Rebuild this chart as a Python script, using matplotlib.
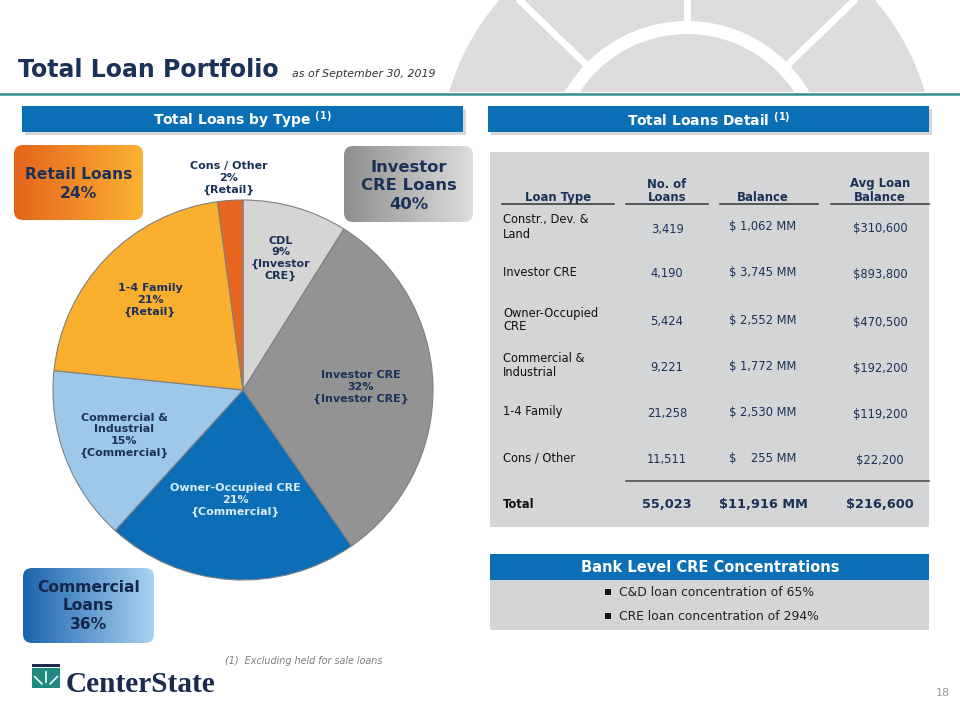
import numpy as np
import matplotlib
matplotlib.use("Agg")
import matplotlib.pyplot as plt
from matplotlib.patches import Rectangle, FancyBboxPatch, Circle, Wedge
from matplotlib.colors import LinearSegmentedColormap

plt.rcParams["font.family"] = ["DejaVu Sans"]

# ---------------- data ----------------
pie_labels = ["CDL", "Investor CRE", "Owner-Occupied CRE", "Commercial &\nIndustrial", "1-4 Family", "Cons / Other"]
pie_pcts = [9, 32, 21, 15, 21, 2]
pie_groups = ["{Investor\nCRE}", "{Investor CRE}", "{Commercial}", "{Commercial}", "{Retail}", "{Retail}"]

loan_types = ["Constr., Dev. &\nLand", "Investor CRE", "Owner-Occupied\nCRE", "Commercial &\nIndustrial", "1-4 Family", "Cons / Other"]
num_loans = [3419, 4190, 5424, 9221, 21258, 11511]
balance_mm = [1062, 3745, 2552, 1772, 2530, 255]
avg_balance = [310600, 893800, 470500, 192200, 119200, 22200]
total_loans = 55023
total_balance_mm = 11916
total_avg = 216600

group_names = ["Retail Loans\n24%", "Investor\nCRE Loans\n40%", "Commercial\nLoans\n36%"]
concentrations = ["C&D loan concentration of 65%", "CRE loan concentration of 294%"]

# ---------------- styles ----------------
NAVY = "#1B3157"
BLUE = "#0B6FB5"
TABLE_BG = "#D4D5D7"
pie_colors = ["#D5D5D5", "#939393", "#0C6EB6", "#9DC8EA", "#FBAF2F", "#E8661F"]
label_colors = [NAVY, NAVY, "#D8ECFA", NAVY, NAVY, NAVY]
label_dist = [0.72, 0.62, 0.58, 0.67, 0.68, 1.12]

W, H = 960, 720
fig = plt.figure(figsize=(9.6, 7.2), dpi=100)
fig.patch.set_facecolor("white")
ax = fig.add_axes([0, 0, 1, 1])
ax.set_autoscale_on(False)
ax.set_xlim(0, W)
ax.set_ylim(H, 0)
ax.axis("off")

# ---------------- watermark ----------------
clip = Rectangle((0, 0), W, 92, transform=ax.transData)
wm_center = (687, 162)
wm = [Circle(wm_center, 248, color="#DCDCDD", lw=0, zorder=0),
      Wedge(wm_center, 141, 0, 360, width=13, color="white", lw=0, zorder=0.1)]
for a in (44, 90, 136):
    r0, r1 = 135, 270
    xs = [wm_center[0] + r0 * np.cos(np.radians(a)), wm_center[0] + r1 * np.cos(np.radians(a))]
    ys = [wm_center[1] - r0 * np.sin(np.radians(a)), wm_center[1] - r1 * np.sin(np.radians(a))]
    ln, = ax.plot(xs, ys, color="white", lw=5, zorder=0.1, solid_capstyle="butt")
    ln.set_clip_path(clip)
for p in wm:
    ax.add_patch(p)
    p.set_clip_path(clip)

# ---------------- title ----------------
ax.text(18, 77, "Total Loan Portfolio", fontsize=17, fontweight="bold", color=NAVY, va="baseline", ha="left")
ax.text(292, 77, "as of September 30, 2019", fontsize=7.9, style="italic", color="#333333", va="baseline", ha="left")
ax.plot([0, W], [93.5, 93.5], color="#3A8C8C", lw=1.8, zorder=2)


def banner(x0, y0, x1, y1, text, fontsize=10, shadow=True):
    if shadow:
        ax.add_patch(Rectangle((x0 + 3, y0 + 3), x1 - x0, y1 - y0, color="#A8A8A8", alpha=0.45, lw=0, zorder=1))
    ax.add_patch(Rectangle((x0, y0), x1 - x0, y1 - y0, color=BLUE, lw=0, zorder=2))
    ax.text((x0 + x1) / 2, (y0 + y1) / 2 + 1, text, fontsize=fontsize, fontweight="bold", color="white",
            ha="center", va="center", zorder=3)


banner(22, 106, 463, 132, r"Total Loans by Type $^{\mathbf{(1)}}$")
banner(488, 106, 929, 132, r"Total Loans Detail $^{\mathbf{(1)}}$")


def grad_box(x0, y0, x1, y1, c0, c1, text, fontsize, ty=None, ls=1.3, color=NAVY):
    patch = FancyBboxPatch((x0, y0), x1 - x0, y1 - y0, boxstyle="round,pad=0,rounding_size=9",
                           lw=0, facecolor="none", zorder=2)
    ax.add_patch(patch)
    cmap = LinearSegmentedColormap.from_list("g", [c0, c1])
    grad = np.linspace(0, 1, 256).reshape(1, -1)
    im = ax.imshow(grad, cmap=cmap, extent=(x0, x1, y1, y0), aspect="auto", zorder=2, interpolation="bilinear")
    im.set_clip_path(patch)
    ax.text((x0 + x1) / 2, ty if ty else (y0 + y1) / 2, text, fontsize=fontsize, fontweight="bold",
            color=color, ha="center", va="center", zorder=3, linespacing=ls)


grad_box(14, 145, 143, 220, "#E5641C", "#FBB233", group_names[0], 11.2, ty=184)
grad_box(344, 146, 473, 222, "#8E8E8E", "#DEDEDE", group_names[1], 11.8, ty=186)
grad_box(23, 568, 154, 643, "#1A64AC", "#A9D2F2", group_names[2], 11.2, ty=606, ls=1.3, color="#13254A")

# ---------------- pie ----------------
cx, cy, r = 243, 390, 190
pax = fig.add_axes([(cx - r) / W, (H - cy - r) / H, 2 * r / W, 2 * r / H])
wedges, _ = pax.pie(balance_mm, colors=pie_colors, startangle=90, counterclock=False,
                    wedgeprops=dict(edgecolor="#808080", linewidth=0.8))
pax.set_xlim(-1, 1)
pax.set_ylim(-1, 1)
pax.set_aspect("equal")
pax.axis("off")
for w, lab, pct, grp, d, col in zip(wedges, pie_labels, pie_pcts, pie_groups, label_dist, label_colors):
    ang = np.radians((w.theta1 + w.theta2) / 2)
    pax.text(d * np.cos(ang), d * np.sin(ang), f"{lab}\n{pct}%\n{grp}", ha="center", va="center",
             fontsize=8, fontweight="bold", color=col, linespacing=1.22, clip_on=False)

# ---------------- table ----------------
ax.add_patch(Rectangle((490, 152), 439, 375, color=TABLE_BG, lw=0, zorder=1))
cols_x = [558, 667, 763, 880]
underlines = [(502, 614), (626, 708), (720, 818), (831, 929)]
headers = ["Loan Type", "No. of\nLoans", "Balance", "Avg Loan\nBalance"]
for x, (u0, u1), h in zip(cols_x, underlines, headers):
    ax.text(x, 201, h, ha="center", va="baseline", fontsize=8.4, fontweight="bold", color=NAVY,
            linespacing=1.05, zorder=3)
    ax.plot([u0, u1], [204, 204], color="#333333", lw=1.1, zorder=3)

row_y = [227, 272, 320, 366, 412, 458]
for y, lt, n, b, a in zip(row_y, loan_types, num_loans, balance_mm, avg_balance):
    ax.text(503, y, lt, ha="left", va="center", fontsize=8.3, color="#111111", linespacing=1.1, zorder=3)
    ax.text(cols_x[1], y + 2, f"{n:,}", ha="center", va="center", fontsize=8.3, color=NAVY, zorder=3)
    bal = f"$ {b:,}" if b >= 1000 else f"$    {b:,}"
    ax.text(cols_x[2], y, f"{bal} MM", ha="center", va="center", fontsize=8.3, color=NAVY, zorder=3)
    ax.text(cols_x[3], y + 2, f"${a:,}", ha="center", va="center", fontsize=8.3, color=NAVY, zorder=3)

ax.plot([626, 929], [481, 481], color="#444444", lw=1.1, zorder=3)
ty = 504
ax.text(503, ty, "Total", ha="left", va="center", fontsize=8.3, fontweight="bold", color="#111111", zorder=3)
ax.text(cols_x[1], ty + 1, f"{total_loans:,}", ha="center", va="center", fontsize=9.3, fontweight="bold", color=NAVY, zorder=3)
ax.text(cols_x[2], ty, f"${total_balance_mm:,} MM", ha="center", va="center", fontsize=9.3, fontweight="bold", color=NAVY, zorder=3)
ax.text(cols_x[3], ty + 1, f"${total_avg:,}", ha="center", va="center", fontsize=9.3, fontweight="bold", color=NAVY, zorder=3)

# ---------------- bank level CRE ----------------
ax.add_patch(Rectangle((490, 554), 439, 26, color=BLUE, lw=0, zorder=2))
ax.text(710, 568, "Bank Level CRE Concentrations", ha="center", va="center", fontsize=10.5,
        fontweight="bold", color="white", zorder=3)
ax.add_patch(Rectangle((490, 580), 439, 50, color=TABLE_BG, lw=0, zorder=2))
for y, t, bx in zip([592, 616], concentrations, [605, 605]):
    ax.add_patch(Rectangle((bx, y - 3), 6, 6, color="#111111", lw=0, zorder=3))
    ax.text(bx + 14, y, t, ha="left", va="center", fontsize=8.9, color="#222222", zorder=3)

# ---------------- footer ----------------
ax.text(225, 661, "(1)  Excluding held for sale loans", ha="left", va="center", fontsize=6.9,
        style="italic", color="#7F7F7F")
ax.text(950, 693, "18", ha="right", va="center", fontsize=8, color="#9A9A9A")

# logo
ax.add_patch(Rectangle((32, 664), 28, 3, color="#1B2A4E", lw=0, zorder=2))
ax.add_patch(Rectangle((32, 668), 28, 20, color="#1E8A80", lw=0, zorder=2))
ax.add_patch(Wedge((46, 688), 13, 0, 180, width=3, color="white", lw=0, zorder=3))
ax.add_patch(Wedge((46, 688), 6, 0, 180, color="white", lw=0, zorder=3))
for a in (45, 90, 135):
    ax.plot([46 + 6 * np.cos(np.radians(a)), 46 + 16 * np.cos(np.radians(a))],
            [688 - 6 * np.sin(np.radians(a)), 688 - 16 * np.sin(np.radians(a))],
            color="white", lw=1.2, zorder=3)
ax.text(66, 692, "CenterState", ha="left", va="baseline", fontsize=21.2, fontweight="bold", color="#1B2A4E",
        family=["Liberation Serif", "DejaVu Serif"], zorder=3)

fig.savefig("out.png", dpi=100, facecolor="white")
